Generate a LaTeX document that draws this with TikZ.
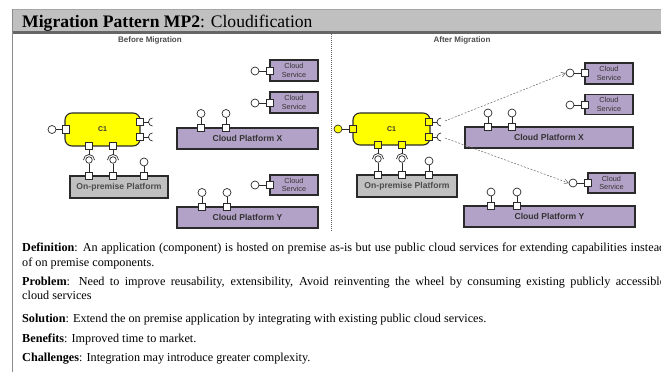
\documentclass[tikz,border=0pt]{standalone}
\usepackage{fontspec}
\setmainfont{Liberation Serif}
\setsansfont{Liberation Sans}
\usetikzlibrary{arrows.meta}
\definecolor{cyel}{HTML}{FFFF00}
\definecolor{cpur}{HTML}{B3A2C7}
\definecolor{cgray}{HTML}{C0C0C0}
\definecolor{cline}{HTML}{2A2A2A}
\definecolor{ctxt}{HTML}{333333}
\begin{document}
\begin{tikzpicture}[x=1pt,y=-1pt,
  comp/.style={draw=cline,line width=1.1pt,fill=cyel,rounded corners=7pt,inner sep=0pt,
    font=\sffamily\bfseries\fontsize{7}{8}\selectfont,text=ctxt},
  plat/.style={draw=cline,line width=1.1pt,fill=cpur,inner sep=0pt,
    font=\sffamily\bfseries\fontsize{8.6}{10}\selectfont,text=ctxt},
  onprem/.style={plat,fill=cgray,text=black!70},
  svc/.style={draw=cline,line width=1.1pt,fill=cpur,inner sep=0pt,align=center,
    font=\sffamily\fontsize{7.3}{8.3}\selectfont,text=ctxt},
  port/.style={draw=cline,line width=0.7pt,fill=white,minimum size=7.5pt,inner sep=0pt},
  yport/.style={port,fill=cyel},
  ball/.style={circle,draw=cline,line width=0.7pt,fill=white,minimum size=8pt,inner sep=0pt},
  yball/.style={ball,fill=cyel},
  sball/.style={ball,minimum size=6.5pt},
  wire/.style={draw=cline,line width=0.7pt},
  darr/.style={draw=black!60,line width=0.5pt,dash pattern=on 2pt off 1.5pt,
    -{Straight Barb[length=4pt,width=5pt]}},
  txt/.style={anchor=base west,inner sep=0pt,font=\fontsize{12.2}{14}\selectfont},
  captxt/.style={font=\sffamily\bfseries\fontsize{8}{9}\selectfont,text=black!70,inner sep=0pt}
]
\useasboundingbox (0,0) rectangle (661,372);
% header frame
\fill[cgray] (12,9) rectangle (661,31);
\draw[black!35,line width=0.6pt] (12,9) -- (661,9);
\fill[black!60] (12,31) rectangle (661,33.5);
\draw[black!45,line width=0.8pt] (12.5,9) -- (12.5,372);
\node[anchor=base west,inner sep=0pt,font=\fontsize{17.6}{20}\selectfont] (title) at (22,27.5)
  {\textbf{Migration Pattern MP2}: Cloudification};
% captions and separator
\node[captxt] (before) at (150,40) {Before Migration};
\node[captxt] (after) at (462,40) {After Migration};
\coordinate (sepT) at (331,34);
\coordinate (sepB) at (331,232);
\draw[black!60,line width=0.6pt,dash pattern=on 1pt off 1pt] (sepT) -- (sepB);

% ================= BEFORE =================
\node[comp,minimum width=75pt,minimum height=33pt] (c1L) at (102.5,129.5) {C1};
\node[onprem,minimum width=98pt,minimum height=22pt] (opL) at (119,187) {On-premise Platform};
\node[plat,minimum width=141pt,minimum height=21pt] (pxL) at (247.5,138.5) {Cloud Platform X};
\node[plat,minimum width=141pt,minimum height=21pt] (pyL) at (247.5,217.5) {Cloud Platform Y};
\node[svc,minimum width=48pt,minimum height=21pt] (cs1L) at (294,70.5) {Cloud\\Service};
\node[svc,minimum width=48pt,minimum height=21pt] (cs2L) at (294,102.5) {Cloud\\Service};
\node[svc,minimum width=48pt,minimum height=20pt] (cs3L) at (294,185) {Cloud\\Service};

% C1 ports
\node[ball] (c1Lwb) at (52,129.5) {};
\node[port] (c1Lw) at (66,129.5) {};
\draw[wire] (c1Lwb) -- (c1Lw);
\node[port] (c1Le1) at (140,122) {};
\node[port] (c1Le2) at (140,137) {};
\coordinate (skL1) at (148.5,122);
\coordinate (skL2) at (148.5,137);
\draw[wire] (c1Le1) -- (skL1);
\draw[wire] (c1Le2) -- (skL2);
\draw[wire] ([shift={(4,-4)}]skL1) arc[start angle=270,end angle=90,radius=4];
\draw[wire] ([shift={(4,-4)}]skL2) arc[start angle=270,end angle=90,radius=4];
\node[port] (c1Ls1) at (89,146) {};
\node[port] (c1Ls2) at (113,146) {};
\coordinate (skLs1) at (89,154.5);
\coordinate (skLs2) at (113,154.5);
\node[sball] (opLb1) at (89,160) {};
\node[sball] (opLb2) at (113,160) {};
\node[ball] (opLb3) at (144,162) {};
\node[port] (opLp1) at (89,176) {};
\node[port] (opLp2) at (113,176) {};
\node[port] (opLp3) at (144,176) {};
\draw[wire] (c1Ls1) -- (skLs1);
\draw[wire] (c1Ls2) -- (skLs2);
\draw[wire] ([shift={(-5.5,5.5)}]skLs1) arc[start angle=180,end angle=360,radius=5.5];
\draw[wire] ([shift={(-5.5,5.5)}]skLs2) arc[start angle=180,end angle=360,radius=5.5];
\draw[wire] (opLb1) -- (opLp1);
\draw[wire] (opLb2) -- (opLp2);
\draw[wire] (opLb3) -- (opLp3);
% platform X
\node[ball] (pxLb1) at (201,113.5) {};
\node[ball] (pxLb2) at (226,113.5) {};
\node[port] (pxLp1) at (201,128) {};
\node[port] (pxLp2) at (226,128) {};
\draw[wire] (pxLb1) -- (pxLp1);
\draw[wire] (pxLb2) -- (pxLp2);
% platform Y
\node[ball] (pyLb1) at (202,192.5) {};
\node[ball] (pyLb2) at (227,192.5) {};
\node[port] (pyLp1) at (202,207) {};
\node[port] (pyLp2) at (227,207) {};
\draw[wire] (pyLb1) -- (pyLp1);
\draw[wire] (pyLb2) -- (pyLp2);
% services
\node[ball] (cs1Lb) at (255,71) {};
\node[port] (cs1Lp) at (270,71) {};
\draw[wire] (cs1Lb) -- (cs1Lp);
\node[ball] (cs2Lb) at (255,103) {};
\node[port] (cs2Lp) at (270,103) {};
\draw[wire] (cs2Lb) -- (cs2Lp);
\node[ball] (cs3Lb) at (255,185) {};
\node[port] (cs3Lp) at (270,185) {};
\draw[wire] (cs3Lb) -- (cs3Lp);

% ================= AFTER =================
\node[comp,minimum width=77pt,minimum height=32pt] (c1R) at (391.5,129) {C1};
\node[onprem,minimum width=100pt,minimum height=22pt] (opR) at (407,186) {On-premise Platform};
\node[plat,minimum width=168pt,minimum height=21pt] (pxR) at (549,137.5) {Cloud Platform X};
\node[plat,minimum width=171pt,minimum height=21pt] (pyR) at (549.5,216.5) {Cloud Platform Y};
\node[svc,minimum width=48pt,minimum height=21pt] (cs1R) at (609,73.5) {Cloud\\Service};
\node[svc,minimum width=48pt,minimum height=20pt] (cs2R) at (609,104.5) {Cloud\\Service};
\node[svc,minimum width=47pt,minimum height=20pt] (cs3R) at (611.5,183) {Cloud\\Service};

\node[yball] (c1Rwb) at (338,129) {};
\node[yport] (c1Rw) at (353,129) {};
\draw[wire] (c1Rwb) -- (c1Rw);
\node[yport] (c1Re1) at (429,122) {};
\node[yport] (c1Re2) at (429,137) {};
\coordinate (skR1) at (437,122);
\coordinate (skR2) at (437,137);
\draw[wire] (c1Re1) -- (skR1);
\draw[wire] (c1Re2) -- (skR2);
\draw[wire] ([shift={(4,-4)}]skR1) arc[start angle=270,end angle=90,radius=4];
\draw[wire] ([shift={(4,-4)}]skR2) arc[start angle=270,end angle=90,radius=4];
\node[yport] (c1Rs1) at (378,145) {};
\node[yport] (c1Rs2) at (402,145) {};
\coordinate (skRs1) at (378,153.5);
\coordinate (skRs2) at (402,153.5);
\node[sball] (opRb1) at (378,159) {};
\node[sball] (opRb2) at (402,159) {};
\node[ball] (opRb3) at (429,161) {};
\node[port] (opRp1) at (378,175) {};
\node[port] (opRp2) at (402,175) {};
\node[port] (opRp3) at (429,175) {};
\draw[wire] (c1Rs1) -- (skRs1);
\draw[wire] (c1Rs2) -- (skRs2);
\draw[wire] ([shift={(-5.5,5.5)}]skRs1) arc[start angle=180,end angle=360,radius=5.5];
\draw[wire] ([shift={(-5.5,5.5)}]skRs2) arc[start angle=180,end angle=360,radius=5.5];
\draw[wire] (opRb1) -- (opRp1);
\draw[wire] (opRb2) -- (opRp2);
\draw[wire] (opRb3) -- (opRp3);
% platform X
\node[ball] (pxRb1) at (488,113) {};
\node[ball] (pxRb2) at (512,113) {};
\node[port] (pxRp1) at (488,127) {};
\node[port] (pxRp2) at (512,127) {};
\draw[wire] (pxRb1) -- (pxRp1);
\draw[wire] (pxRb2) -- (pxRp2);
% platform Y
\node[ball] (pyRb1) at (491,192) {};
\node[ball] (pyRb2) at (517,192) {};
\node[port] (pyRp1) at (491,206) {};
\node[port] (pyRp2) at (517,206) {};
\draw[wire] (pyRb1) -- (pyRp1);
\draw[wire] (pyRb2) -- (pyRp2);
% services
\node[ball] (cs1Rb) at (570,73) {};
\node[port] (cs1Rp) at (585,73) {};
\draw[wire] (cs1Rb) -- (cs1Rp);
\node[ball] (cs2Rb) at (570,105) {};
\node[port] (cs2Rp) at (585,105) {};
\draw[wire] (cs2Rb) -- (cs2Rp);
\node[ball] (cs3Rb) at (573,183) {};
\node[port] (cs3Rp) at (588,183) {};
\draw[wire] (cs3Rb) -- (cs3Rp);
% dashed arrows
\coordinate (aR1) at (445,121);
\coordinate (aR2) at (445,138);
\draw[darr] (aR1) -- (cs1Rb.west);
\draw[darr] (aR2) -- (cs3Rb.west);

% ================= TEXT =================
\node[txt] (def1) at (22,251) {\makebox[643pt][s]{\textbf{Definition}: An application (component) is hosted on premise as-is but use public cloud services for extending capabilities instead}};
\node[txt] (def2) at (22,266) {of on premise components.};
\node[txt] (pr1) at (22,285) {\makebox[643pt][s]{\textbf{Problem}: Need to improve reusability, extensibility, Avoid reinventing the wheel by consuming existing publicly accessible}};
\node[txt] (pr2) at (22,299.5) {cloud services};
\node[txt] (sol) at (22,322) {\textbf{Solution}: Extend the on premise application by integrating with existing public cloud services.};
\node[txt] (ben) at (22,342) {\textbf{Benefits}: Improved time to market.};
\node[txt] (cha) at (22,361) {\textbf{Challenges}: Integration may introduce greater complexity.};
\end{tikzpicture}
\end{document}
